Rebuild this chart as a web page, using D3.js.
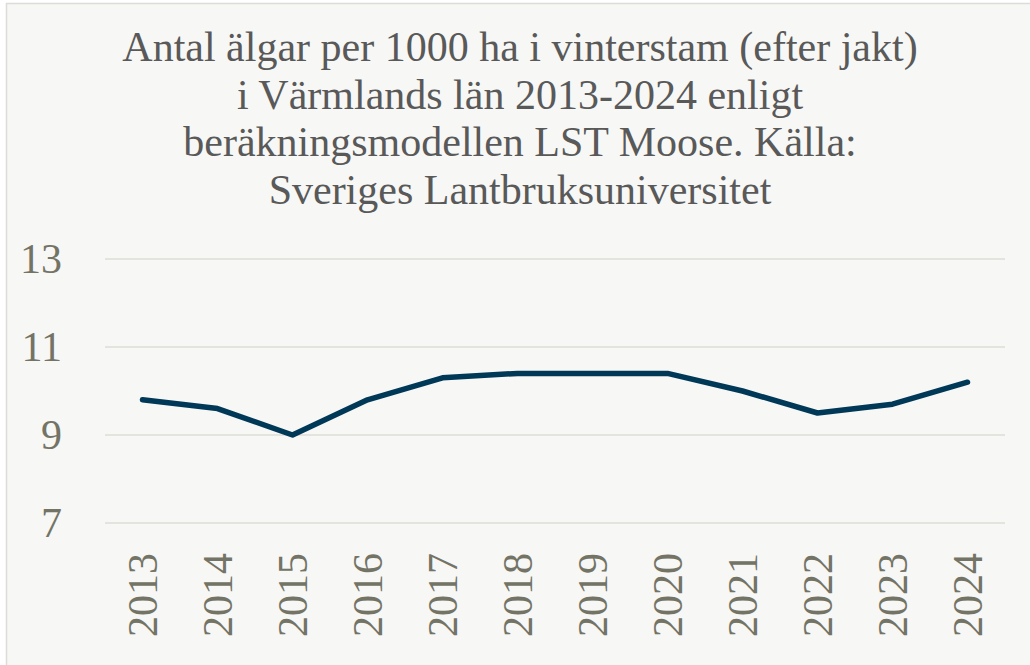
<!DOCTYPE html>
<html>
<head>
<meta charset="utf-8">
<script src="https://cdn.jsdelivr.net/npm/d3@7"></script>
<style>
  body { margin: 0; background: #fff; }
  svg { display: block; }
</style>
</head>
<body>
<svg width="1030" height="665"></svg>
<script>
// data
const years = ["2013", "2014", "2015", "2016", "2017", "2018", "2019", "2020", "2021", "2022", "2023", "2024"];
const moose = [9.8, 9.6, 9.0, 9.8, 10.3, 10.4, 10.4, 10.4, 10.0, 9.5, 9.7, 10.2];
const yTicks = [7, 9, 11, 13];
const titleLines = [
    "Antal älgar per 1000 ha i vinterstam (efter jakt)",
    "i Värmlands län 2013-2024 enligt",
    "beräkningsmodellen LST Moose. Källa:",
    "Sveriges Lantbruksuniversitet"
];

const svg = d3.select("svg"),
    width = +svg.attr("width"),
    height = +svg.attr("height");

const font = "'Liberation Serif', 'Times New Roman', serif";

// chart area background + thin border
svg.append("rect")
    .attr("x", 6.5).attr("y", 3.5)
    .attr("width", width + 10).attr("height", height + 10)
    .attr("fill", "#f7f7f5")
    .attr("stroke", "#dcdcd8")
    .attr("stroke-width", 1.5);

const plot = { left: 105, right: 1005, top: 259, bottom: 523 };

const x = d3.scalePoint()
    .domain(years)
    .range([plot.left, plot.right])
    .padding(0.5);

const y = d3.scaleLinear()
    .domain([7, 13])
    .range([plot.bottom, plot.top]);

// title
svg.append("g")
    .selectAll("text")
    .data(titleLines)
    .join("text")
    .attr("x", 520)
    .attr("y", (d, i) => 61 + i * 47.5)
    .attr("text-anchor", "middle")
    .attr("fill", "#595959")
    .attr("font-family", font)
    .attr("font-size", 42)
    .text(d => d);

// gridlines
svg.append("g")
    .attr("stroke", "#dedcd6")
    .attr("stroke-width", 1.5)
    .selectAll("line")
    .data(yTicks)
    .join("line")
    .attr("x1", plot.left)
    .attr("x2", plot.right)
    .attr("y1", d => y(d))
    .attr("y2", d => y(d));

// y axis labels
const yAxis = svg.append("g")
    .attr("transform", `translate(62,0)`)
    .call(d3.axisLeft(y).tickValues(yTicks).tickFormat(d3.format("d")).tickSize(0).tickPadding(0));
yAxis.select(".domain").remove();
yAxis.selectAll("text")
    .attr("fill", "#737466")
    .attr("font-family", font)
    .attr("font-size", 42)
    .attr("dy", "0.33em");

// x axis labels, rotated
const xAxis = svg.append("g")
    .attr("transform", `translate(0,${plot.bottom})`)
    .call(d3.axisBottom(x).tickSize(0));
xAxis.select(".domain").remove();
xAxis.selectAll("text")
    .attr("fill", "#737466")
    .attr("font-family", font)
    .attr("font-size", 42)
    .attr("text-anchor", "end")
    .attr("transform", "rotate(-90)")
    .attr("x", -30)
    .attr("y", 0)
    .attr("dy", "0.33em");

// line
const line = d3.line()
    .x((d, i) => x(years[i]))
    .y(d => y(d));

svg.append("path")
    .datum(moose)
    .attr("fill", "none")
    .attr("stroke", "#003857")
    .attr("stroke-width", 5.5)
    .attr("stroke-linejoin", "round")
    .attr("stroke-linecap", "round")
    .attr("d", line);
</script>
</body>
</html>
